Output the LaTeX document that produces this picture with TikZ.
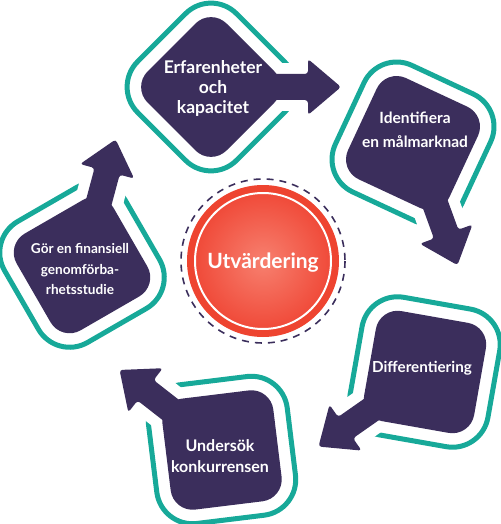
\documentclass[tikz,border=0pt]{standalone}
\usepackage{fontspec}
\setmainfont{Lato}
\definecolor{darkc}{HTML}{3B2E5C}
\definecolor{tealc}{HTML}{17A999}
\definecolor{redouter}{HTML}{EE4430}
\definecolor{redin}{HTML}{F7806F}
\definecolor{redmid}{HTML}{F04B3A}
\tikzset{
  lbl/.style={text=white, font=\bfseries, align=center, inner sep=0pt},
  tealline/.style={draw=tealc, line width=5pt, rounded corners=36pt},
  darkfill/.style={fill=darkc},
}
\newcommand\tealpart[2]{%
  \begin{scope}[shift={#1}, rotate=-#2]
    \draw[tealline] (49.4,49.4) -- (0,98.8) -- (-98.8,0) -- (0,-98.8) -- (98.8,0) -- cycle;
    \fill[white] (50,-24) rectangle (125,24);
  \end{scope}}
\newcommand\darkpart[2]{%
  \begin{scope}[shift={#1}, rotate=-#2]
    \fill[darkfill, rounded corners=22pt] (39.5,39.5) -- (0,79) -- (-79,0) -- (0,-79) -- (79,0) -- cycle;
    \fill[darkfill, rounded corners=3pt] (40,-13) -- (97,-13) -- (97,-28) -- (130,0) -- (97,28) -- (97,13) -- (40,13) -- cycle;
  \end{scope}}
\begin{document}
\begin{tikzpicture}[x=1pt,y=-1pt]
\useasboundingbox (0,0) rectangle (500,524);
% teal outlines
\tealpart{(211,87)}{0}
\tealpart{(413,143)}{70}
\tealpart{(425,372)}{145}
\tealpart{(222,450)}{218}
\tealpart{(82,265)}{285}
% dark shapes
\darkpart{(211,87)}{0}
\darkpart{(413,143)}{70}
\darkpart{(425,372)}{145}
\darkpart{(222,450)}{218}
\darkpart{(82,265)}{285}
% centre
\fill[redouter] (263,261) circle (76);
\shade[inner color=redin, outer color=redmid] (263,261) circle (67);
\draw[white, line width=2pt] (263,261) circle (68);
\draw[darkc, line width=1.6pt, dash pattern=on 7pt off 6pt] (263,261) circle (82);
\node[text=white, font=\fontsize{21}{24}\selectfont\bfseries, inner sep=0pt] (c) at (263,263) {Utvärdering};
% labels
\node[lbl, font=\fontsize{17.5}{20}\selectfont\bfseries] (t1) at (213,88) {Erfarenheter\\och\\kapacitet};
\node[lbl, font=\fontsize{15.5}{24}\selectfont\bfseries] (t2) at (415,130) {Identifiera\\en målmarknad};
\node[lbl, font=\fontsize{15.2}{20}\selectfont\bfseries] (t3) at (422,368) {Differentiering};
\node[lbl, font=\fontsize{16}{20.5}\selectfont\bfseries] (t4) at (220,456) {Undersök\\konkurrensen};
\node[lbl, font=\fontsize{13.6}{20.8}\selectfont\bfseries] (t5) at (80,269) {Gör en finansiell\\genomförba-\\rhetsstudie};
\end{tikzpicture}
\end{document}
